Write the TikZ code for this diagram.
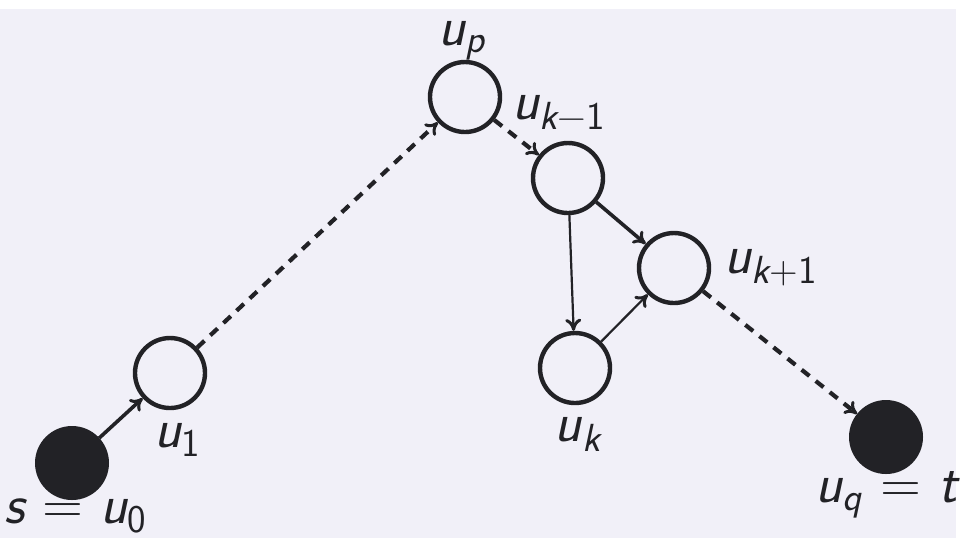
\documentclass[tikz,border=0pt]{standalone}
\usetikzlibrary{arrows.meta}
\definecolor{bgc}{RGB}{241,240,248}
\definecolor{ink}{RGB}{34,34,38}
\newcommand\lab[2]{{\sffamily\itshape #1}\textsubscript{\sffamily #2}}
\begin{document}
\begin{tikzpicture}[x=0.5pt,y=-0.5pt,
  vtx/.style={circle,draw=ink,line width=2.2pt,minimum size=35pt,inner sep=0pt},
  term/.style={circle,draw=ink,fill=ink,line width=1pt,minimum size=36pt,inner sep=0pt},
  lbl/.style={text=ink,font=\fontsize{28}{30}\selectfont\sffamily,inner sep=0pt},
  arr/.style={-{To[length=6pt,width=8pt,line width=1.5pt]},draw=ink},
  thick arr/.style={arr,line width=1.8pt},
  thin arr/.style={arr,line width=1.1pt},
  dash arr/.style={arr,line width=2.1pt,dash pattern=on 5pt off 4pt}]
\fill[white] (0,0) rectangle (962,538);
\fill[bgc] (0,9) rectangle (956,538);
\useasboundingbox (0,0) rectangle (962,538);
\node[term] (s) at (72,463) {};
\node[vtx] (u1) at (170,373) {};
\node[vtx] (up) at (465,97) {};
\node[vtx] (ukm) at (568,178) {};
\node[vtx] (ukp) at (674,268) {};
\node[vtx] (uk) at (575,368) {};
\node[term] (t) at (886,437) {};
\node[lbl] (lup) at (462,41) {\lab{u}{\itshape p}};
\node[lbl,anchor=west] (lukm) at (512,112) {\lab{u}{\itshape k\upshape −1}};
\node[lbl,anchor=west] (lukp) at (724,268) {\lab{u}{\itshape k\upshape +1}};
\node[lbl] (luk) at (578,434) {\lab{u}{\itshape k}};
\node[lbl] (lu1) at (178,440) {\lab{u}{1}};
\node[lbl,anchor=west] (ls) at (4,516) {{\itshape s} = \lab{u}{0}};
\node[lbl,anchor=east] (lt) at (958,495) {\lab{u}{\itshape q} = {\itshape t}};
\draw[thick arr] (s) -- (u1);
\draw[dash arr] (u1) -- (up);
\draw[dash arr] (up) -- (ukm);
\draw[thin arr] (ukm) -- (uk);
\draw[thick arr] (ukm) -- (ukp);
\draw[thin arr] (uk) -- (ukp);
\draw[dash arr] (ukp) -- (t);
\end{tikzpicture}
\end{document}
